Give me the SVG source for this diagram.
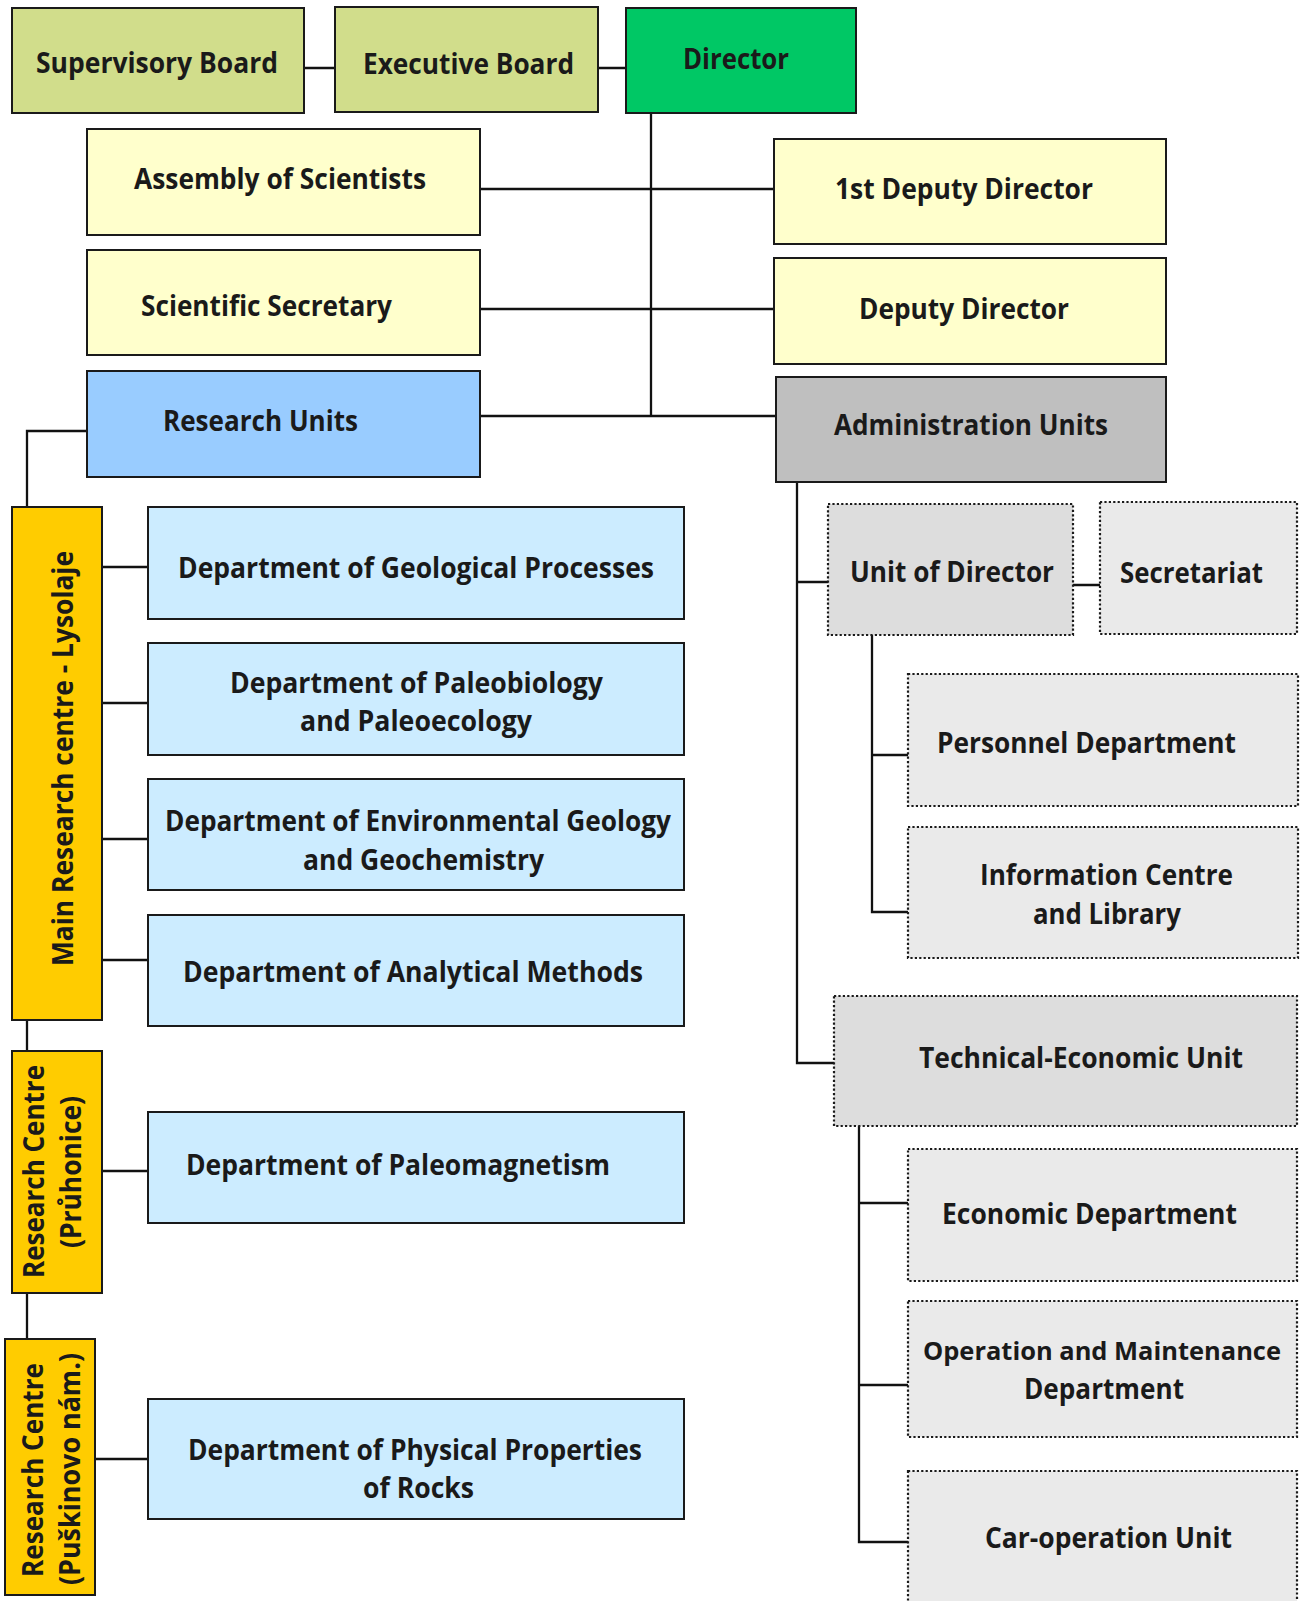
<svg xmlns="http://www.w3.org/2000/svg" width="1307" height="1601" viewBox="0 0 1307 1601">
<style>
.b{stroke:#1a1a1a;stroke-width:2}
.d{stroke:#1a1a1a;stroke-width:2.2;stroke-dasharray:2.2 2.2}
.t{font-family:"Open Sans","Noto Sans","DejaVu Sans",sans-serif;font-weight:bold;font-size:28px;fill:#1a1a1a;text-anchor:middle}
.s{font-size:25px}
.c{fill:none;stroke:#111;stroke-width:2.3}
.olive{fill:#D1DD8B}.green{fill:#00C865}.cream{fill:#FFFFCC}.blue{fill:#99CCFF}.grey{fill:#BFBFBF}
.lb{fill:#CCECFF}.yel{fill:#FFCC00}.g1{fill:#DDDDDD}.g2{fill:#EAEAEA}
</style>
<rect width="1307" height="1601" fill="#ffffff"/>
<g id="connectors">
<path class="c" d="M304 68H335M598 68H626"/>
<path class="c" d="M651 113V416M480 189H774M480 309H774M480 416H776"/>
<path class="c" d="M87 431H27V507M27 1020V1051M27 1293V1339"/>
<path class="c" d="M102 567H148M102 703H148M102 839H148M102 960H148M102 1171H148M95 1459H148"/>
<path class="c" d="M797 482V1063H834M797 582H828M1073 585H1100"/>
<path class="c" d="M872 635V912H908M872 755H908"/>
<path class="c" d="M859 1126V1542H908M859 1203H908M859 1385H908"/>
</g>
<g id="supervisory-board"><rect class="b olive" x="12" y="8" width="292" height="105"/><text class="t" x="157" y="73" textLength="242" lengthAdjust="spacingAndGlyphs">Supervisory Board</text></g>
<g id="executive-board"><rect class="b olive" x="335" y="7" width="263" height="105"/><text class="t" x="468.5" y="74" textLength="211" lengthAdjust="spacingAndGlyphs">Executive Board</text></g>
<g id="director"><rect class="b green" x="626" y="8" width="230" height="105"/><text class="t" x="736" y="69" textLength="106" lengthAdjust="spacingAndGlyphs">Director</text></g>
<g id="assembly"><rect class="b cream" x="87" y="129" width="393" height="106"/><text class="t" x="280" y="189" textLength="292" lengthAdjust="spacingAndGlyphs">Assembly of Scientists</text></g>
<g id="first-deputy"><rect class="b cream" x="774" y="139" width="392" height="105"/><text class="t" x="964" y="199" textLength="258" lengthAdjust="spacingAndGlyphs">1st Deputy Director</text></g>
<g id="scientific-secretary"><rect class="b cream" x="87" y="250" width="393" height="105"/><text class="t" x="266.5" y="316" textLength="251" lengthAdjust="spacingAndGlyphs">Scientific Secretary</text></g>
<g id="deputy"><rect class="b cream" x="774" y="258" width="392" height="106"/><text class="t" x="964" y="319" textLength="210" lengthAdjust="spacingAndGlyphs">Deputy Director</text></g>
<g id="research-units"><rect class="b blue" x="87" y="371" width="393" height="106"/><text class="t" x="260.5" y="431" textLength="195" lengthAdjust="spacingAndGlyphs">Research Units</text></g>
<g id="admin-units"><rect class="b grey" x="776" y="377" width="390" height="105"/><text class="t" x="971" y="435" textLength="274" lengthAdjust="spacingAndGlyphs">Administration Units</text></g>
<g id="main-rc"><rect class="b yel" x="12" y="507" width="90" height="513"/><text class="t" transform="translate(73 758.5) rotate(-90)" textLength="415" lengthAdjust="spacingAndGlyphs">Main Research centre - Lysolaje</text></g>
<g id="rc-pruhonice"><rect class="b yel" x="12" y="1051" width="90" height="242"/><text class="t" transform="translate(44 1171.5) rotate(-90)" textLength="213" lengthAdjust="spacingAndGlyphs">Research Centre</text><text class="t" transform="translate(81 1172) rotate(-90)" textLength="152" lengthAdjust="spacingAndGlyphs">(Průhonice)</text></g>
<g id="rc-puskinovo"><rect class="b yel" x="5" y="1339" width="90" height="256"/><text class="t" transform="translate(43 1470) rotate(-90)" textLength="214" lengthAdjust="spacingAndGlyphs">Research Centre</text><text class="t" transform="translate(80 1469) rotate(-90)" textLength="232" lengthAdjust="spacingAndGlyphs">(Puškinovo nám.)</text></g>
<g id="dept-geo"><rect class="b lb" x="148" y="507" width="536" height="112"/><text class="t" x="416" y="578" textLength="476" lengthAdjust="spacingAndGlyphs">Department of Geological Processes</text></g>
<g id="dept-paleobio"><rect class="b lb" x="148" y="643" width="536" height="112"/><text class="t" x="416.5" y="693" textLength="373" lengthAdjust="spacingAndGlyphs">Department of Paleobiology</text><text class="t" x="416" y="731" textLength="232" lengthAdjust="spacingAndGlyphs">and Paleoecology</text></g>
<g id="dept-env"><rect class="b lb" x="148" y="779" width="536" height="111"/><text class="t" x="418" y="831" textLength="506" lengthAdjust="spacingAndGlyphs">Department of Environmental Geology</text><text class="t" x="423.5" y="870" textLength="241" lengthAdjust="spacingAndGlyphs">and Geochemistry</text></g>
<g id="dept-anal"><rect class="b lb" x="148" y="915" width="536" height="111"/><text class="t" x="413" y="982" textLength="460" lengthAdjust="spacingAndGlyphs">Department of Analytical Methods</text></g>
<g id="dept-paleomag"><rect class="b lb" x="148" y="1112" width="536" height="111"/><text class="t" x="398" y="1175" textLength="424" lengthAdjust="spacingAndGlyphs">Department of Paleomagnetism</text></g>
<g id="dept-phys"><rect class="b lb" x="148" y="1399" width="536" height="120"/><text class="t" x="415" y="1460" textLength="454" lengthAdjust="spacingAndGlyphs">Department of Physical Properties</text><text class="t" x="418.5" y="1498" textLength="111" lengthAdjust="spacingAndGlyphs">of Rocks</text></g>
<g id="unit-of-director"><rect class="d g1" x="828" y="504" width="245" height="131"/><text class="t" x="952" y="582" textLength="204" lengthAdjust="spacingAndGlyphs">Unit of Director</text></g>
<g id="secretariat"><rect class="d g2" x="1100" y="502" width="197" height="132"/><text class="t" x="1191.5" y="583" textLength="143" lengthAdjust="spacingAndGlyphs">Secretariat</text></g>
<g id="personnel"><rect class="d g2" x="908" y="674" width="390" height="132"/><text class="t" x="1086.5" y="753" textLength="299" lengthAdjust="spacingAndGlyphs">Personnel Department</text></g>
<g id="info-centre"><rect class="d g2" x="908" y="827" width="390" height="131"/><text class="t" x="1106.5" y="885" textLength="253" lengthAdjust="spacingAndGlyphs">Information Centre</text><text class="t" x="1107" y="924" textLength="148" lengthAdjust="spacingAndGlyphs">and Library</text></g>
<g id="tech-econ"><rect class="d g1" x="834" y="996" width="463" height="130"/><text class="t" x="1081" y="1068" textLength="324" lengthAdjust="spacingAndGlyphs">Technical-Economic Unit</text></g>
<g id="economic"><rect class="d g2" x="908" y="1149" width="389" height="132"/><text class="t" x="1089.5" y="1224" textLength="295" lengthAdjust="spacingAndGlyphs">Economic Department</text></g>
<g id="operation"><rect class="d g2" x="908" y="1301" width="389" height="136"/><text class="t s" x="1102" y="1360" textLength="358" lengthAdjust="spacingAndGlyphs">Operation and Maintenance</text><text class="t" x="1104" y="1399" textLength="160" lengthAdjust="spacingAndGlyphs">Department</text></g>
<g id="car-operation"><rect class="d g2" x="908" y="1471" width="389" height="140"/><text class="t" x="1108.5" y="1548" textLength="247" lengthAdjust="spacingAndGlyphs">Car-operation Unit</text></g>
</svg>
